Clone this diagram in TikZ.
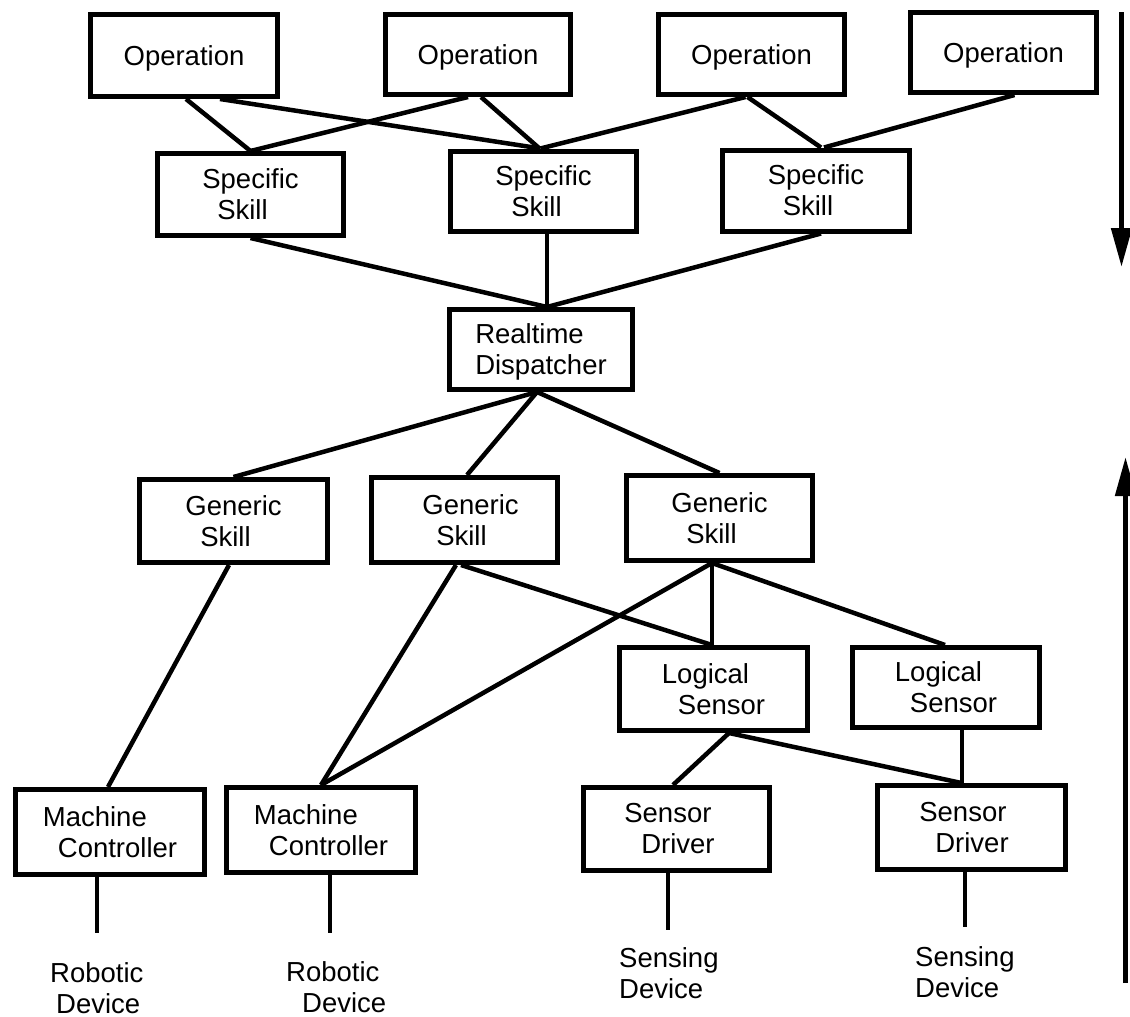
\documentclass[tikz,border=0pt]{standalone}
\usepackage{fontspec}
\setmainfont{Liberation Sans}
\usetikzlibrary{arrows.meta}
\begin{document}
\begin{tikzpicture}[x=1pt,y=-1pt,
  box/.style 2 args={draw, line width=5pt, rectangle, inner sep=0pt,
    minimum width=#1, minimum height=#2,
    font=\fontsize{27.5}{31}\selectfont, align=center},
  lbox/.style 2 args={box={#1}{#2}, align=left},
  conn/.style={line width=4.5pt},
  lbl/.style={font=\fontsize{27.5}{31}\selectfont, inner sep=0pt, align=left, anchor=north west},
  flow/.style={line width=5pt, -{Triangle[width=20pt,length=39pt]}},
]
\useasboundingbox (0,0) rectangle (1130,1017);

% Operations
\node[box={187pt}{82pt}, text depth=0pt] (op1) at (184,55.5) {Operation};
\node[box={185pt}{80pt}, text depth=0pt] (op2) at (478,54.5) {Operation};
\node[box={186pt}{80pt}, text depth=0pt] (op3) at (751.5,54.5) {Operation};
\node[box={186pt}{80pt}, text depth=0pt] (op4) at (1003.5,52.5) {Operation};

% Specific skills
\node[box={186pt}{82pt}] (ss1) at (250.5,194.5) {Specific\\Skill\hspace*{16pt}};
\node[box={186pt}{80pt}] (ss2) at (543.5,191) {Specific\\Skill\hspace*{14pt}};
\node[box={187pt}{81pt}] (ss3) at (816,190.5) {Specific\\Skill\hspace*{16pt}};

% Dispatcher
\node[lbox={183pt}{80pt}, text depth=0pt] (rt) at (541,349.5) {Realtime\\Dispatcher};

% Generic skills
\node[box={188pt}{83pt}] (gs1) at (233.5,521) {Generic\\Skill\hspace*{16pt}};
\node[box={186pt}{85pt}] (gs2) at (464.5,520) {\hspace*{12pt}Generic\\Skill\hspace*{6pt}};
\node[box={186pt}{85pt}] (gs3) at (719.5,518) {Generic\\Skill\hspace*{16pt}};

% Logical sensors
\node[lbox={188pt}{83pt}] (ls1) at (713.5,689) {Logical\\\hspace*{16pt}Sensor};
\node[lbox={187pt}{80pt}] (ls2) at (946,687.5) {Logical\\\hspace*{15pt}Sensor};

% Machine controllers
\node[lbox={189pt}{85pt}] (mc1) at (110,832) {Machine\\\hspace*{15pt}Controller};
\node[lbox={189pt}{85pt}] (mc2) at (321,830) {Machine\\\hspace*{15pt}Controller};

% Sensor drivers
\node[lbox={186pt}{83pt}] (sd1) at (676.5,829) {Sensor\\\hspace*{17pt}Driver\hspace*{14pt}};
\node[lbox={188pt}{84pt}] (sd2) at (971.5,827.5) {Sensor\\\hspace*{16pt}Driver\hspace*{15pt}};

% Device labels
\node[lbl] (r1) at (50,962) {Robotic\\\hspace*{6pt}Device};
\node[lbl] (r2) at (286,961) {Robotic\\\hspace*{16pt}Device};
\node[lbl] (s1) at (619,947) {Sensing\\Device};
\node[lbl] (s2) at (915,946) {Sensing\\Device};

\coordinate (d1) at (97,933);
\coordinate (d2) at (330,933);
\coordinate (d3) at (668,930);
\coordinate (d4) at (965,927);

% Connectors
\draw[conn] ([xshift=2pt]op1.south) -- (ss1.north);
\draw[conn] ([xshift=36pt]op1.south) -- ([xshift=-3pt]ss2.north);
\draw[conn] ([xshift=-10pt]op2.south) -- (ss1.north);
\draw[conn] ([xshift=3pt]op2.south) -- ([xshift=-4pt]ss2.north);
\draw[conn] ([xshift=-6pt]op3.south) -- ([xshift=-3pt]ss2.north);
\draw[conn] ([xshift=-4pt]op3.south) -- ([xshift=5pt]ss3.north);
\draw[conn] ([xshift=11pt]op4.south) -- ([xshift=8pt]ss3.north);

\draw[conn] (ss1.south) -- ([xshift=6pt]rt.north);
\draw[conn] ([xshift=3.5pt]ss2.south) -- ([xshift=6pt]rt.north);
\draw[conn] ([xshift=5pt]ss3.south) -- ([xshift=6pt]rt.north);

\draw[conn] ([xshift=-4pt]rt.south) -- (gs1.north);
\draw[conn] ([xshift=-4pt]rt.south) -- ([xshift=2.5pt]gs2.north);
\draw[conn] ([xshift=-4pt]rt.south) -- (gs3.north);

\draw[conn] ([xshift=-4.5pt]gs1.south) -- ([xshift=-2pt]mc1.north);
\draw[conn] ([xshift=-8.5pt]gs2.south) -- (mc2.north);
\draw[conn] ([xshift=-3.5pt]gs2.south) -- ([xshift=-1.5pt]ls1.north);
\draw[conn] ([xshift=-7.5pt]gs3.south) -- (mc2.north);
\draw[conn] ([xshift=-7.5pt]gs3.south) -- ([xshift=-1.5pt]ls1.north);
\draw[conn] ([xshift=-7.5pt]gs3.south) -- ([xshift=-1pt]ls2.north);

\draw[conn] ([xshift=15.5pt]ls1.south) -- ([xshift=-3.5pt]sd1.north);
\draw[conn] ([xshift=15.5pt]ls1.south) -- ([xshift=-10pt]sd2.north);
\draw[conn] ([xshift=16pt]ls2.south) -- ([xshift=-9.5pt]sd2.north);

\draw[conn] ([xshift=-13pt]mc1.south) -- (d1);
\draw[conn] ([xshift=9pt]mc2.south) -- (d2);
\draw[conn] ([xshift=-8.5pt]sd1.south) -- (d3);
\draw[conn] ([xshift=-6.5pt]sd2.south) -- (d4);

% Side arrows
\coordinate (a1s) at (1121.5,12);
\coordinate (a1e) at (1121.5,267);
\coordinate (a2s) at (1125.5,983);
\coordinate (a2e) at (1125.5,457);
\draw[flow] (a1s) -- (a1e);
\draw[flow] (a2s) -- (a2e);
\end{tikzpicture}
\end{document}
